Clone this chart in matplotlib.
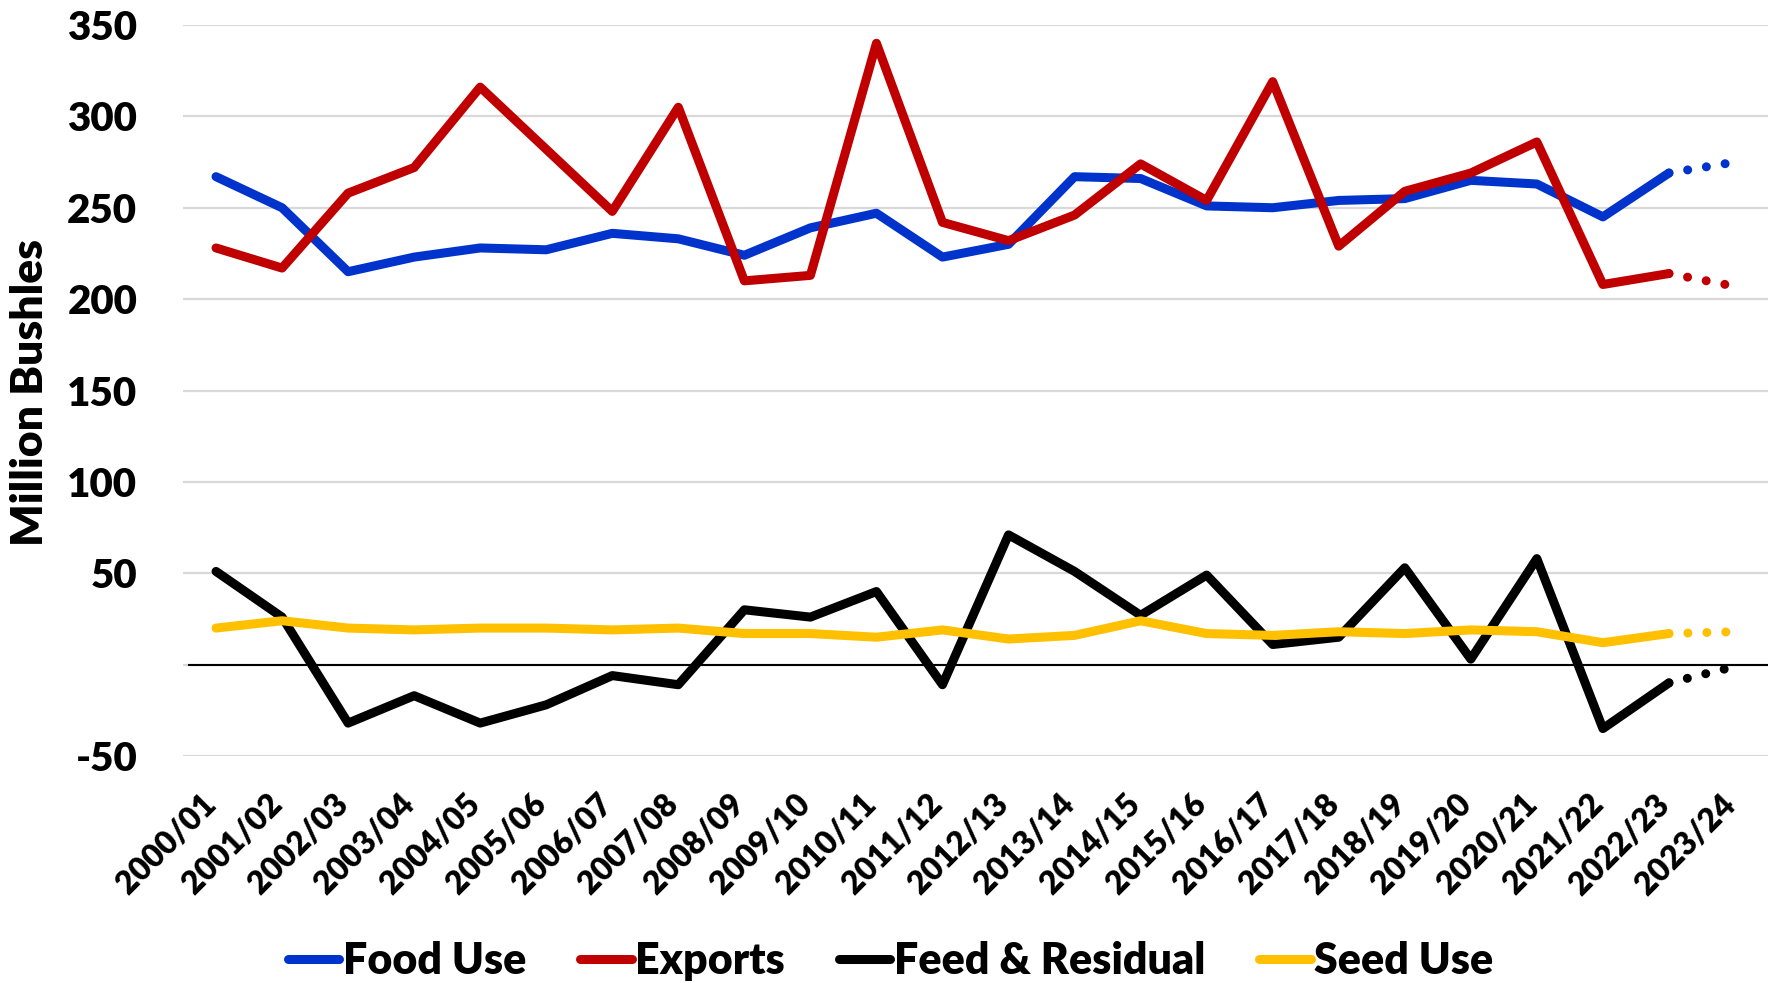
import matplotlib
matplotlib.use("Agg")
import matplotlib.pyplot as plt
import matplotlib.transforms as mtransforms
from matplotlib.lines import Line2D

plt.rcParams['font.family'] = ['Lato', 'DejaVu Sans']
plt.rcParams['font.weight'] = 'heavy'

seasons = ["2000/01", "2001/02", "2002/03", "2003/04", "2004/05", "2005/06",
           "2006/07", "2007/08", "2008/09", "2009/10", "2010/11", "2011/12",
           "2012/13", "2013/14", "2014/15", "2015/16", "2016/17", "2017/18",
           "2018/19", "2019/20", "2020/21", "2021/22", "2022/23", "2023/24"]

food_use = [267, 250, 215, 223, 228, 227, 236, 233, 224, 239, 247, 223,
            230, 267, 266, 251, 250, 254, 255, 265, 263, 245, 269, 275]
exports = [228, 217, 258, 272, 316, 282, 248, 305, 210, 213, 340, 242,
           232, 246, 274, 254, 319, 229, 259, 269, 286, 208, 214, 207]
feed_residual = [51, 26, -32, -17, -32, -22, -6, -11, 30, 26, 40, -11,
                 71, 51, 27, 49, 11, 15, 53, 3, 58, -35, -10, -1]
seed_use = [20, 24, 20, 19, 20, 20, 19, 20, 17, 17, 15, 19,
            14, 16, 24, 17, 16, 18, 17, 19, 18, 12, 17, 18]

y_ticks = [-50, 0, 50, 100, 150, 200, 250, 300, 350]

series = [("Food Use", food_use, "#0033CC"),
          ("Exports", exports, "#C00000"),
          ("Feed & Residual", feed_residual, "#000000"),
          ("Seed Use", seed_use, "#FFC000")]

W, H = 1781, 983
fig = plt.figure(figsize=(W / 100, H / 100), dpi=100)
ax = fig.add_axes([183 / W, 1 - 756 / H, (1768 - 183) / W, (756 - 25) / H])

x = list(range(len(seasons)))
lw = 6.5
n_actual = len(seasons) - 1  # last season is a projection

# zero reference line
ax.axhline(0, xmin=0.004, color="black", lw=1.5, zorder=2)

for name, vals, color in series:
    ax.plot(x[:n_actual], vals[:n_actual], color=color, lw=lw,
            solid_capstyle="round", solid_joinstyle="round", zorder=3)
    ax.plot(x[n_actual - 1:], vals[n_actual - 1:], color=color, lw=lw,
            linestyle=(0, (0.001, 2.1)), dash_capstyle="round", zorder=3)

ax.set_xlim(-0.5, len(seasons) - 0.5)
ax.set_ylim(-50, 350)
ax.set_yticks(y_ticks)
ax.set_yticklabels(["" if t == 0 else str(t) for t in y_ticks],
                   fontweight="heavy")
ax.grid(axis="y", color="#D9D9D9", lw=1.6, zorder=0)
ax.set_axisbelow(True)

for s in ax.spines.values():
    s.set_visible(False)
ax.tick_params(axis="both", length=0)
ax.tick_params(axis="y", labelsize=29, pad=33)

ax.set_xticks(x)
ax.set_xticklabels(seasons, rotation=45, ha="right", va="top",
                   rotation_mode="anchor", fontsize=23, fontweight="heavy")
ax.tick_params(axis="x", pad=24)
offset = mtransforms.ScaledTranslation(-15 / 100, 0, fig.dpi_scale_trans)
for lab in ax.get_xticklabels():
    lab.set_transform(lab.get_transform() + offset)

ax.set_ylabel("Million Bushles", fontsize=32, fontweight="heavy")
ax.yaxis.label.set_va("center")
ax.yaxis.set_label_coords((30 - 183) / (1768 - 183), (756 - 392) / (756 - 25))

handles = [Line2D([], [], color=c, lw=lw, solid_capstyle="round") for _, _, c in series]
fig.legend(handles, [n for n, _, _ in series], loc="center",
           bbox_to_anchor=(0.5, 1 - 961 / H), ncol=4, frameon=False,
           prop={"size": 31, "weight": "heavy"}, handlelength=1.2,
           handletextpad=0.08, columnspacing=1.25, borderaxespad=0, borderpad=0)

fig.savefig("out.png", dpi=100)
